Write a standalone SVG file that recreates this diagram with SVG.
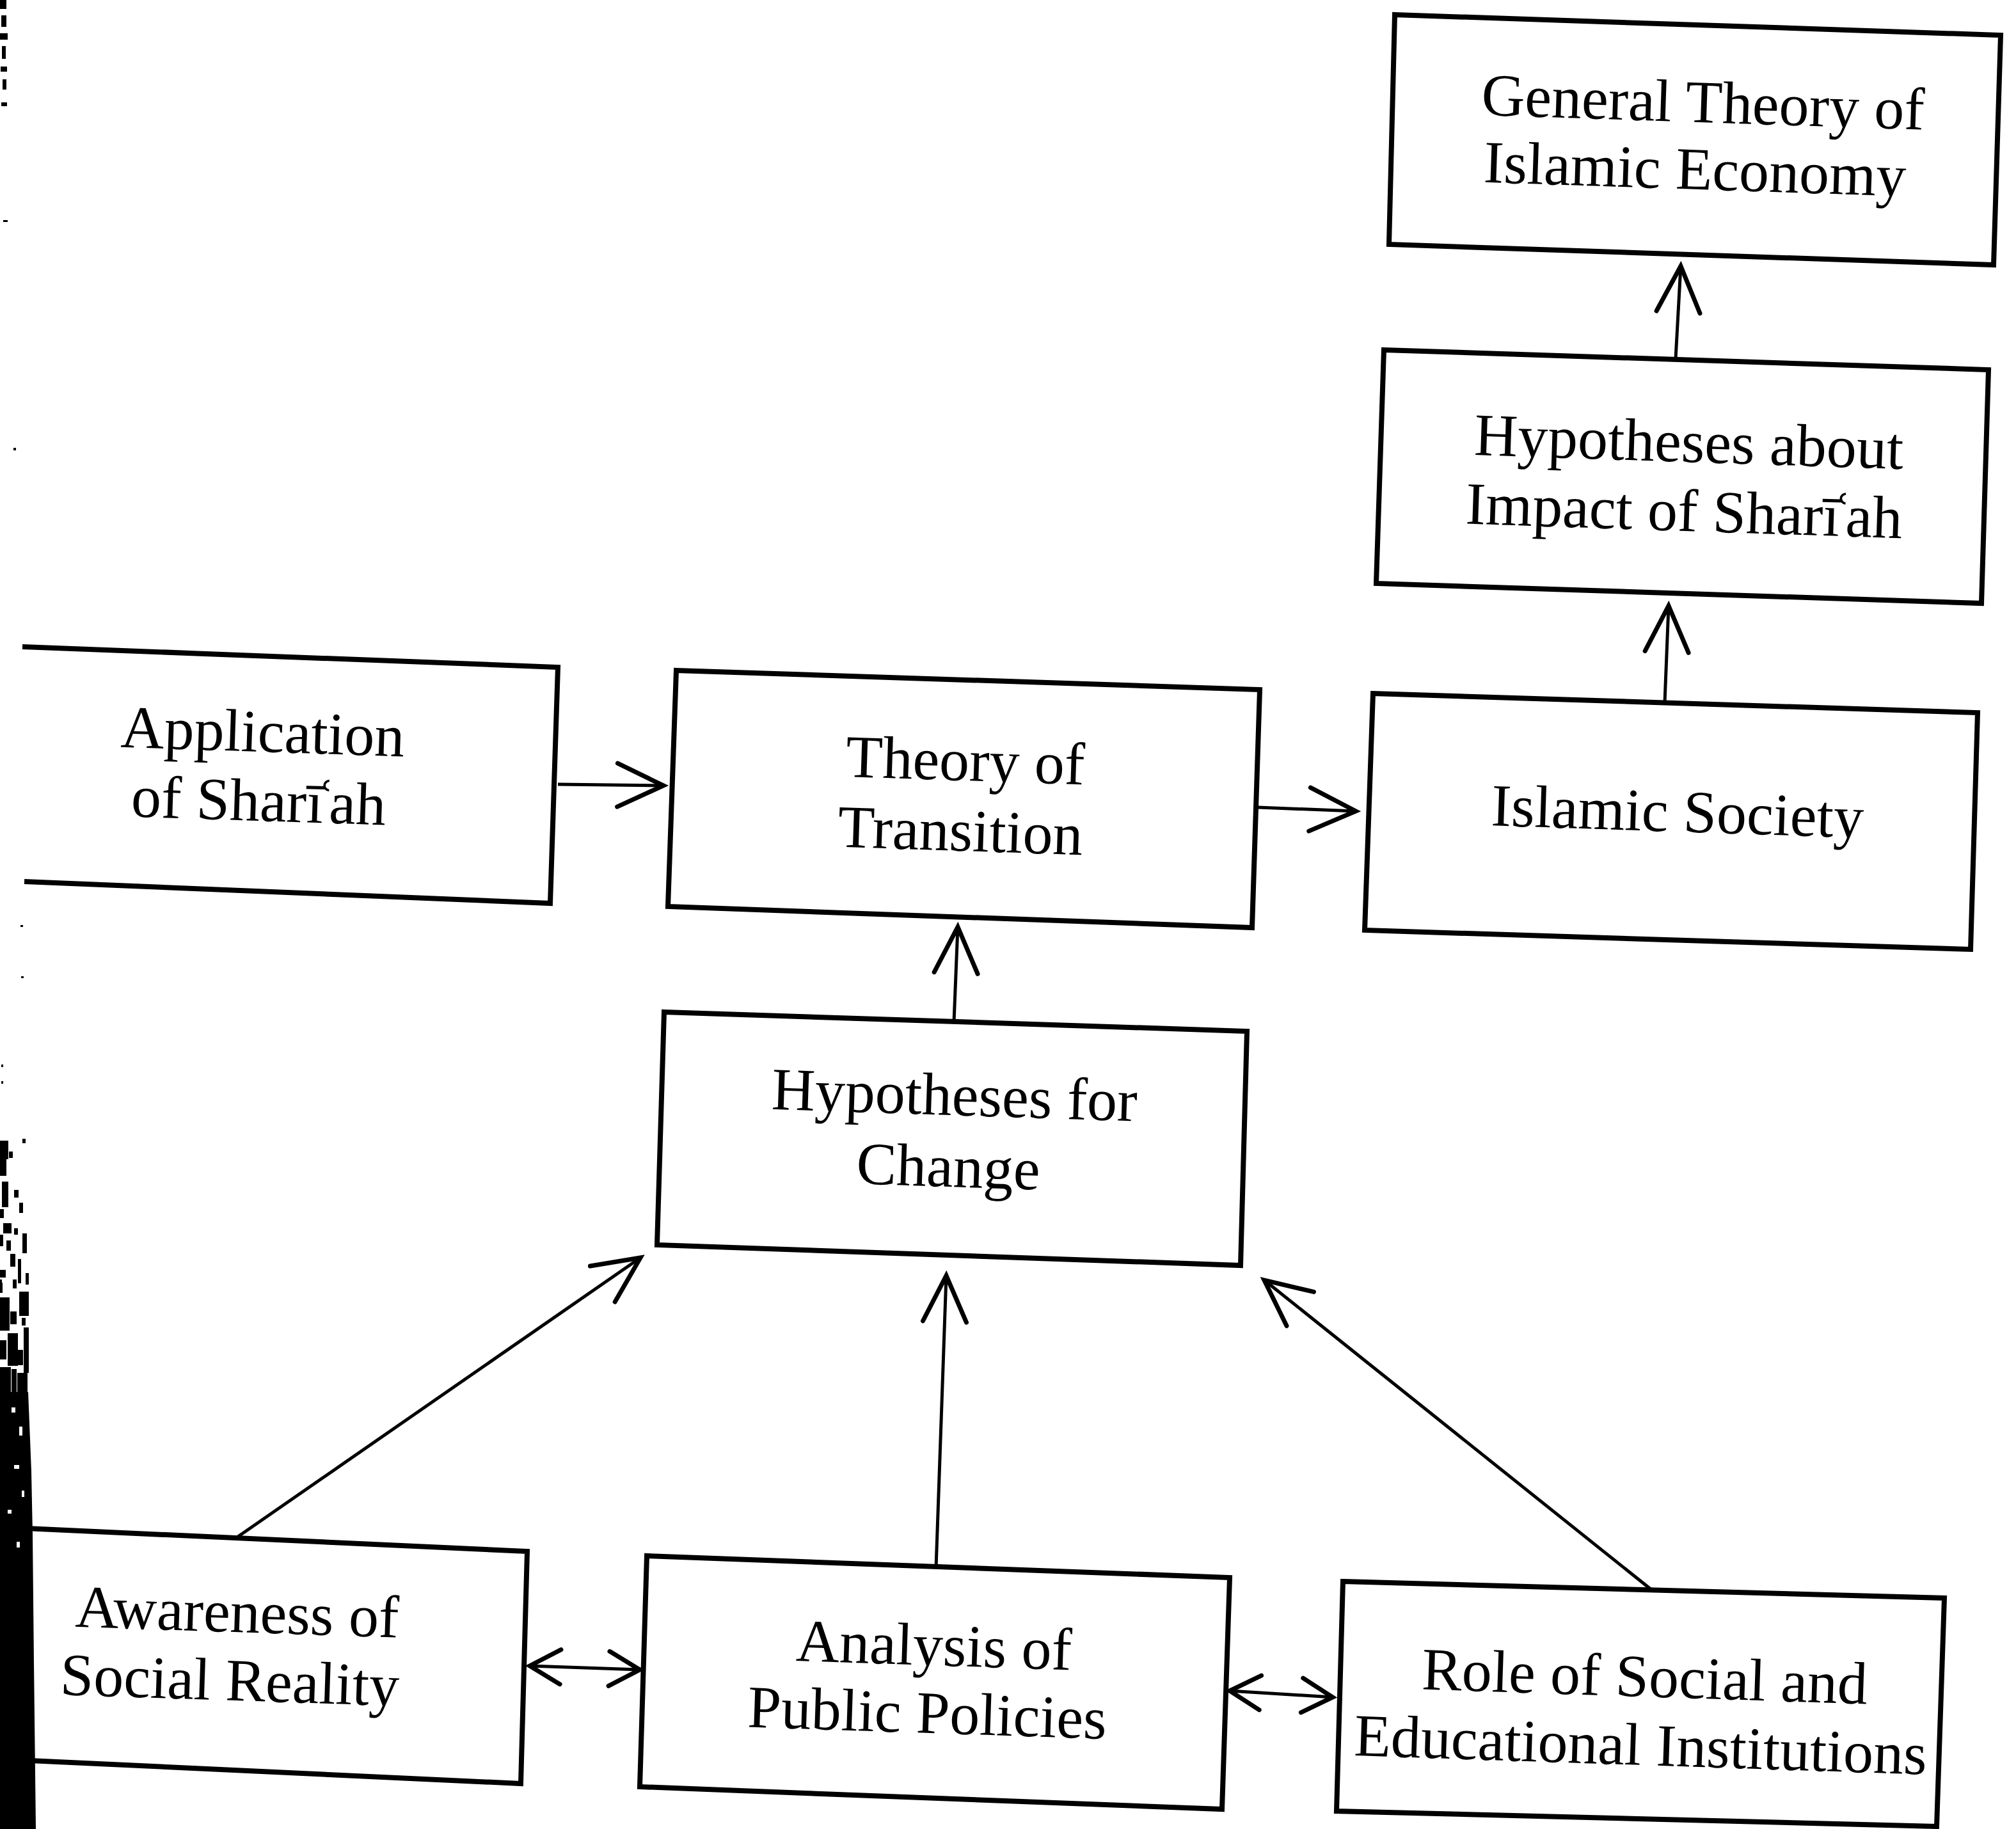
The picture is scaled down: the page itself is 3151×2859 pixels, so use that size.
<svg xmlns="http://www.w3.org/2000/svg" width="3151" height="2859" viewBox="0 0 3151 2859">
<style>
.box{fill:#fff;stroke:#000;stroke-width:8;stroke-linejoin:miter}
.open{fill:none;stroke:#000;stroke-width:8}
.lbl{font-family:"Liberation Serif","Times New Roman",serif;font-size:94px;fill:#000;text-anchor:middle}
.conn{fill:none;stroke:#000;stroke-width:5}
.head{fill:none;stroke:#000;stroke-width:7;stroke-linejoin:miter;stroke-linecap:round}
.ink{fill:#000}
.spk{fill:#fff}
</style>
<defs>
<marker id="big" markerUnits="userSpaceOnUse" orient="auto" refX="0" refY="0" markerWidth="200" markerHeight="200" viewBox="-100 -100 200 200" overflow="visible">
<path class="head" d="M-72,-34 L0,0 L-72,34"/>
</marker>
<marker id="small" markerUnits="userSpaceOnUse" orient="auto-start-reverse" refX="0" refY="0" markerWidth="200" markerHeight="200" viewBox="-100 -100 200 200" overflow="visible">
<path class="head" d="M-48,-27 L0,0 L-48,27"/>
</marker>
</defs>
<rect width="3151" height="2859" fill="#fff"/>

<g id="connectors">
<path class="conn" d="M872,1226 L1037,1228" marker-end="url(#big)"/>
<path class="conn" d="M1966,1262 L2119,1268" marker-end="url(#big)"/>
<path class="conn" d="M2602,1098 L2608,947" marker-end="url(#big)"/>
<path class="conn" d="M2619,561 L2627,416" marker-end="url(#big)"/>
<path class="conn" d="M1491,1598 L1497,1449" marker-end="url(#big)"/>
<path class="conn" d="M369,2404 L1001,1966" marker-end="url(#big)"/>
<path class="conn" d="M1463,2451 L1479,1994" marker-end="url(#big)"/>
<path class="conn" d="M2585,2488 L1976,2001" marker-end="url(#big)"/>
<path class="conn" d="M828,2604 L1000,2610" marker-start="url(#small)" marker-end="url(#small)"/>
<path class="conn" d="M1922,2643 L2083,2653" marker-start="url(#small)" marker-end="url(#small)"/>
</g>

<g id="node-general-theory">
<polygon class="box" points="2180,23 3127,55 3116,414 2171,382"/>
<text class="lbl" transform="rotate(1.9 2655 243)"><tspan x="2659" y="191">General Theory of</tspan><tspan x="2650" y="296">Islamic Economy</tspan></text>
</g>

<g id="node-hypotheses-impact">
<polygon class="box" points="2163,547 3108,578 3097,943 2151,912"/>
<text class="lbl" transform="rotate(1.9 2635 776)"><tspan x="2637" y="722">Hypotheses about</tspan><tspan x="2633" y="830">Impact of Sharī<tspan dx="-12">ʿ</tspan><tspan dx="-10">ah</tspan></tspan></text>
</g>

<g id="node-islamic-society">
<polygon class="box" points="2146,1084 3091,1114 3080,1484 2133,1454"/>
<text class="lbl" transform="rotate(1.9 2621 1300)"><tspan x="2621" y="1300">Islamic Society</tspan></text>
</g>

<g id="node-theory-transition">
<polygon class="box" points="1057,1048 1969,1078 1957,1450 1044,1417"/>
<text class="lbl" transform="rotate(1.9 1504 1275)"><tspan x="1506" y="1220">Theory of</tspan><tspan x="1502" y="1330">Transition</tspan></text>
</g>

<g id="node-application">
<polyline class="open" points="35,1011 872,1043 860,1412 38,1378"/>
<text class="lbl" transform="rotate(1.9 406 1229)"><tspan x="408" y="1175">Application</tspan><tspan x="405" y="1283">of Sharī<tspan dx="-12">ʿ</tspan><tspan dx="-10">ah</tspan></tspan></text>
</g>

<g id="node-hypotheses-change">
<polygon class="box" points="1038,1582 1949,1612 1939,1978 1027,1946"/>
<text class="lbl" transform="rotate(1.9 1486 1799)"><tspan x="1489" y="1743">Hypotheses for</tspan><tspan x="1483" y="1855">Change</tspan></text>
</g>

<g id="node-awareness">
<polyline class="open" points="40,2389 824,2425 814,2788 46,2752"/>
<text class="lbl" transform="rotate(1.9 364 2604)"><tspan x="368" y="2551">Awareness of</tspan><tspan x="360" y="2658">Social Reality</tspan></text>
</g>

<g id="node-analysis">
<polygon class="box" points="1011,2432 1922,2466 1910,2828 1000,2793"/>
<text class="lbl" transform="rotate(1.9 1453 2656)"><tspan x="1457" y="2603">Analysis of</tspan><tspan x="1450" y="2709">Public Policies</tspan></text>
</g>

<g id="node-role">
<polygon class="box" points="2099,2472 3039,2498 3027,2855 2089,2831"/>
<text class="lbl" transform="rotate(1.9 2566 2705)"><tspan x="2568" y="2652">Role of Social and</tspan><tspan x="2565" y="2759">Educational Institutions</tspan></text>
</g>

<g id="scan-edge">
<path class="ink" d="M0,2176 L44,2176 L47,2250 L49,2300 L51,2400 L53,2600 L56,2859 L0,2859 Z"/>
<rect class="spk" x="18" y="2200" width="6" height="8"/>
<rect class="spk" x="30" y="2230" width="5" height="14"/>
<rect class="spk" x="22" y="2290" width="8" height="6"/>
<rect class="spk" x="34" y="2330" width="4" height="10"/>
<rect class="spk" x="12" y="2360" width="6" height="6"/>
<rect class="spk" x="26" y="2410" width="5" height="9"/>
<rect class="ink" x="0" y="1783" width="13" height="29"/>
<rect class="ink" x="0" y="1812" width="10" height="26"/>
<rect class="ink" x="35" y="1780" width="5" height="7"/>
<rect class="ink" x="3" y="1847" width="10" height="40"/>
<rect class="ink" x="5" y="1912" width="13" height="16"/>
<rect class="ink" x="10" y="1939" width="7" height="16"/>
<rect class="ink" x="35" y="1928" width="7" height="31"/>
<rect class="ink" x="28" y="1968" width="5" height="38"/>
<rect class="ink" x="0" y="2028" width="15" height="52"/>
<rect class="ink" x="30" y="2019" width="15" height="38"/>
<rect class="ink" x="12" y="2084" width="16" height="51"/>
<rect class="ink" x="37" y="2075" width="8" height="71"/>
<rect class="ink" x="0" y="2137" width="17" height="45"/>
<rect class="ink" x="27" y="2146" width="16" height="36"/>
<rect class="ink" x="0" y="1890" width="6" height="14"/>
<rect class="ink" x="16" y="1960" width="8" height="20"/>
<rect class="ink" x="0" y="1985" width="9" height="12"/>
<rect class="ink" x="20" y="2000" width="6" height="14"/>
<rect class="ink" x="16" y="2050" width="10" height="20"/>
<rect class="ink" x="0" y="2095" width="10" height="30"/>
<rect class="ink" x="28" y="2110" width="8" height="24"/>
<rect class="ink" x="18" y="2140" width="8" height="36"/>
<rect class="ink" x="14" y="1800" width="6" height="10"/>
<rect class="ink" x="22" y="1860" width="7" height="12"/>
<rect class="ink" x="30" y="1880" width="6" height="16"/>
<rect class="ink" x="0" y="1930" width="5" height="18"/>
<rect class="ink" x="22" y="1920" width="6" height="10"/>
<rect class="ink" x="40" y="1990" width="5" height="18"/>
<rect class="ink" x="0" y="2005" width="4" height="16"/>
<rect class="ink" x="34" y="2060" width="6" height="12"/>
<rect class="ink" x="0" y="2000" width="3" height="6"/>
<rect class="ink" x="0" y="0" width="10" height="14"/>
<rect class="ink" x="2" y="24" width="8" height="18"/>
<rect class="ink" x="0" y="52" width="12" height="10"/>
<rect class="ink" x="3" y="72" width="6" height="20"/>
<rect class="ink" x="1" y="104" width="10" height="8"/>
<rect class="ink" x="4" y="124" width="6" height="16"/>
<rect class="ink" x="2" y="160" width="9" height="6"/>
<rect class="ink" x="5" y="344" width="7" height="3"/>
<rect class="ink" x="21" y="700" width="4" height="4"/>
<rect class="ink" x="32" y="1446" width="4" height="3"/>
<rect class="ink" x="33" y="1526" width="4" height="3"/>
<rect class="ink" x="2" y="1664" width="3" height="4"/>
<rect class="ink" x="2" y="1690" width="3" height="4"/>
</g>
</svg>
